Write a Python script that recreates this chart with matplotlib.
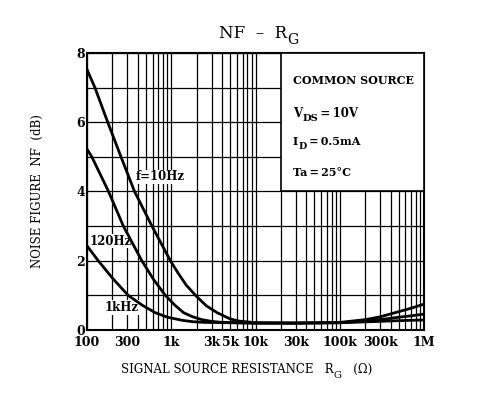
import numpy as np
import matplotlib
matplotlib.use("Agg")
import matplotlib.pyplot as plt
from matplotlib.ticker import LogLocator, NullFormatter
from matplotlib.patches import Rectangle

plt.rcParams['font.family'] = ['DejaVu Serif']

# ---- data (R_G in ohm, NF in dB)
rg_10hz = [100, 124, 176, 253, 366, 590, 975, 1200, 1500, 1940, 2600, 3500, 5000, 6300, 10000,
           30000, 100000, 200000, 300000, 500000, 700000, 1000000]
nf_10hz = [7.52, 7.0, 6.0, 5.0, 4.0, 3.0, 2.0, 1.65, 1.3, 1.0, 0.7, 0.5, 0.32, 0.26, 0.21,
           0.2, 0.22, 0.3, 0.38, 0.53, 0.63, 0.75]

rg_120hz = [100, 114, 180, 270, 447, 620, 850, 1100, 1400, 1800, 2300, 3000, 4000, 10000,
            30000, 100000, 200000, 300000, 500000, 700000, 1000000]
nf_120hz = [5.22, 5.0, 4.0, 3.0, 2.0, 1.45, 1.0, 0.72, 0.5, 0.38, 0.3, 0.25, 0.22, 0.2,
            0.2, 0.21, 0.26, 0.3, 0.37, 0.41, 0.46]

rg_1khz = [100, 136, 200, 308, 450, 645, 900, 1350, 1800, 2500, 10000,
           30000, 100000, 300000, 500000, 700000, 1000000]
nf_1khz = [2.43, 2.0, 1.5, 1.0, 0.72, 0.5, 0.37, 0.28, 0.24, 0.22, 0.2,
           0.2, 0.21, 0.25, 0.27, 0.28, 0.29]

xtick_vals = [100, 300, 1e3, 3e3, 5e3, 1e4, 3e4, 1e5, 3e5, 1e6]
xtick_labels = ["100", "300", "1k", "3k", "5k", "10k", "30k", "100k", "300k", "1M"]
ytick_vals = [0, 2, 4, 6, 8]


def sub_text(ax, x, y, parts, size, weight="normal", coords=None):
    # parts: list of (string, is_subscript); pieces chained left to right,
    # normal pieces keep the first piece's baseline, subscripts dropped a bit
    t = ax.text(x, y, parts[0][0], fontsize=size, fontweight=weight, ha="left",
                va="baseline", zorder=6, transform=coords or ax.transData)
    prev = t
    for s, is_sub in parts[1:]:
        off = -size * 0.3 if is_sub else 0
        fs = size * 0.85 if is_sub else size
        prev = ax.annotate(s, xy=(1, 0), xycoords=(prev, t), xytext=(0.3, off),
                           textcoords="offset points", fontsize=fs,
                           fontweight=weight, va="bottom", ha="left", zorder=6)
    return t


fig = plt.figure(figsize=(4.90, 4.01), dpi=100)
ax = fig.add_axes([0.1776, 0.177, 0.688, 0.691])

ax.set_xscale("log")
ax.set_xlim(100, 1e6)
ax.set_ylim(0, 8)

# grid
ax.xaxis.set_minor_locator(LogLocator(base=10, subs=np.arange(2, 10)))
ax.xaxis.set_minor_formatter(NullFormatter())
ax.set_yticks(np.arange(0, 9, 1), minor=True)
ax.grid(True, which="both", axis="both", color="black", linewidth=0.9)
ax.set_axisbelow(True)

for rg, nf in [(rg_10hz, nf_10hz), (rg_120hz, nf_120hz), (rg_1khz, nf_1khz)]:
    ax.plot(rg, nf, color="black", linewidth=2.0, solid_joinstyle="round", zorder=4.5)

ax.set_xticks(xtick_vals)
ax.set_xticklabels(xtick_labels)
ax.set_yticks(ytick_vals)
ax.set_yticklabels([str(v) for v in ytick_vals])
ax.tick_params(axis="x", which="both", length=0, labelsize=9, pad=4)
ax.tick_params(axis="y", which="both", length=0, labelsize=9, pad=1.5)
for lab in ax.get_xticklabels() + ax.get_yticklabels():
    lab.set_fontweight("bold")

for sp in ax.spines.values():
    sp.set_linewidth(1.5)

# curve labels
lbl_kw = dict(fontsize=8.5, fontweight="bold", ha="center", va="center", zorder=4,
              bbox=dict(facecolor="white", edgecolor="none", pad=0.5))
ax.text(740, 4.42, "f=10Hz", **lbl_kw)
ax.text(193, 2.57, "120Hz", **lbl_kw)
ax.text(260, 0.65, "1kHz", **lbl_kw)

# condition box
ax.add_patch(Rectangle((20000, 4), 1e6 - 20000, 4, facecolor="white",
                       edgecolor="black", linewidth=1.2, zorder=5))
bx = 27500
ax.text(bx, 7.1, "COMMON SOURCE", fontsize=8, fontweight="bold", ha="left",
        va="baseline", zorder=6)
sub_text(ax, bx, 6.16, [("V", False), ("DS", True), ("\u2009=\u200910V", False)], 8.5, "bold")
sub_text(ax, bx, 5.33, [("I", False), ("D", True), ("\u2009=\u20090.5mA", False)], 8, "bold")
ax.text(bx, 4.46, "Ta\u2009=\u200925°C", fontsize=8, fontweight="bold", ha="left",
        va="baseline", zorder=6)

# title with subscript
sub_text(ax, 0.39, 1.055, [("NF  \u2013  R", False), ("G", True)], 12,
         coords=ax.transAxes)

# x label with subscript
sub_text(ax, 0.10, -0.155, [("SIGNAL SOURCE RESISTANCE   R", False), ("G", True),
                           ("   (\u03a9)", False)], 8.5, coords=ax.transAxes)

ax.set_ylabel("NOISE FIGURE  NF  (dB)", fontsize=8.5, labelpad=23)

fig.savefig("out.png", dpi=100)
